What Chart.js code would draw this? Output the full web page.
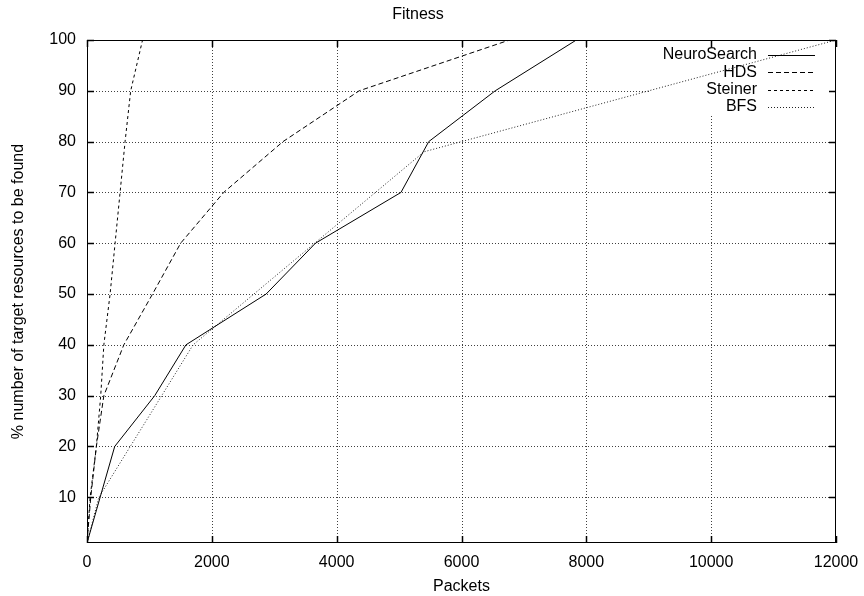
<!DOCTYPE html>
<html>
<head>
<meta charset="utf-8">
<title>Fitness</title>
<script src="https://cdn.jsdelivr.net/npm/chart.js@4/dist/chart.umd.min.js"></script>
<style>
	html, body { margin: 0; padding: 0; background: #fff; }
	#wrap { width: 864px; height: 596px; }
</style>
</head>
<body>
<div id="wrap"><canvas id="fitnessChart" width="864" height="596"></canvas></div>
<script>
const seriesNames = ['NeuroSearch', 'HDS', 'Steiner', 'BFS']

// packets needed (x) to find a given % of target resources (y)
const neuroPackets = [0, 444, 1085, 1585, 2870, 3660, 5030, 5475, 6540, 7840]
const neuroFound = [1, 20, 30, 40, 50, 60, 70, 80, 90, 100]

const hdsPackets = [0, 60, 150, 270, 590, 1050, 1500, 2190, 3140, 4360, 6770]
const hdsFound = [1, 10, 20, 30, 40, 50, 60, 70, 80, 90, 100]

const steinerPackets = [0, 50, 150, 220, 270, 370, 450, 530, 610, 700, 890]
const steinerFound = [1, 10, 20, 30, 40, 50, 60, 70, 80, 90, 100]

const bfsPackets = [0, 190, 1700, 5400, 12000]
const bfsFound = [1, 10, 40, 78, 100]

const xTicks = [0, 2000, 4000, 6000, 8000, 10000, 12000]
const yTicks = [10, 20, 30, 40, 50, 60, 70, 80, 90, 100]

const FONT = '"Liberation Sans", Arial, Helvetica, sans-serif'

const toPoints = (xs, ys) => xs.map((x, i) => ({ x: x, y: ys[i] }))

const lineStyles = [
	{ dash: [], color: '#000' },
	{ dash: [5, 3], color: '#000' },
	{ dash: [3, 3], color: '#000' },
	{ dash: [1, 2], color: '#222' },
]

// gnuplot-like frame: dotted grid, inward ticks on all four sides, key in the top right
const framePlugin = {
	id: 'frame',
	beforeDatasetsDraw(chart) {
		const { ctx, chartArea: a, scales } = chart
		ctx.save()
		ctx.strokeStyle = 'rgba(0,0,0,0.75)'
		ctx.lineWidth = 1
		ctx.setLineDash([1, 2])
		xTicks.forEach(v => {
			if (v === 0 || v === 12000) return
			const px = Math.round(scales.x.getPixelForValue(v)) + 0.5
			ctx.beginPath()
			ctx.moveTo(px, a.bottom)
			ctx.lineTo(px, a.top)
			ctx.stroke()
		})
		yTicks.forEach(v => {
			if (v === 100) return
			const py = Math.round(scales.y.getPixelForValue(v)) + 0.5
			ctx.beginPath()
			ctx.moveTo(a.left, py)
			ctx.lineTo(a.right, py)
			ctx.stroke()
		})
		// key area hides the grid behind it
		ctx.fillStyle = '#fff'
		ctx.fillRect(650, a.top + 1, a.right - 651, 75)
		ctx.restore()
	},
	afterDatasetsDraw(chart) {
		const { ctx, chartArea: a, scales } = chart
		ctx.save()
		ctx.setLineDash([])
		ctx.strokeStyle = '#000'
		ctx.lineWidth = 1
		ctx.strokeRect(a.left + 0.5, a.top + 0.5, a.right - a.left - 1, a.bottom - a.top - 1)
		const tl = 7
		ctx.lineWidth = 1.5
		xTicks.forEach(v => {
			const px = Math.round(scales.x.getPixelForValue(v)) + 0.5
			ctx.beginPath()
			ctx.moveTo(px, a.bottom)
			ctx.lineTo(px, a.bottom - tl)
			ctx.moveTo(px, a.top)
			ctx.lineTo(px, a.top + tl)
			ctx.stroke()
		})
		yTicks.forEach(v => {
			const py = Math.round(scales.y.getPixelForValue(v)) + 0.5
			ctx.beginPath()
			ctx.moveTo(a.left, py)
			ctx.lineTo(a.left + tl, py)
			ctx.moveTo(a.right, py)
			ctx.lineTo(a.right - tl, py)
			ctx.stroke()
		})

		// key
		ctx.font = '16px ' + FONT
		ctx.textAlign = 'right'
		ctx.textBaseline = 'middle'
		ctx.fillStyle = '#000'
		ctx.lineWidth = 1
		seriesNames.forEach((name, i) => {
			const y = 55 + i * 17.3
			ctx.fillText(name, 757, y)
			ctx.strokeStyle = lineStyles[i].color
			ctx.setLineDash(lineStyles[i].dash)
			ctx.beginPath()
			ctx.moveTo(768, Math.round(y) + 0.5)
			ctx.lineTo(815, Math.round(y) + 0.5)
			ctx.stroke()
		})
		ctx.restore()
	},
}

const allPoints = [
	toPoints(neuroPackets, neuroFound),
	toPoints(hdsPackets, hdsFound),
	toPoints(steinerPackets, steinerFound),
	toPoints(bfsPackets, bfsFound),
]

const ctx = document.getElementById('fitnessChart').getContext('2d')
const fitnessChart = new Chart(ctx, {
	type: 'line',
	data: {
		datasets: seriesNames.map((name, i) => ({
			label: name,
			data: allPoints[i],
			borderColor: lineStyles[i].color,
			borderDash: lineStyles[i].dash,
			borderWidth: 1,
			pointRadius: 0,
			tension: 0,
			fill: false,
		})),
	},
	options: {
		responsive: false,
		animation: false,
		layout: { padding: { left: 0, right: 28, top: 0, bottom: 0 } },
		plugins: {
			legend: { display: false },
			tooltip: { enabled: false },
			title: {
				display: true,
				text: 'Fitness',
				color: '#000',
				font: { family: FONT, size: 16, weight: 'normal' },
				padding: { top: 5, bottom: 15.8 },
			},
		},
		scales: {
			x: {
				type: 'linear',
				min: 0,
				max: 12000,
				afterBuildTicks: scale => {
					scale.ticks = xTicks.map(v => ({ value: v }))
				},
				afterFit: scale => {
					scale.height = 53
					scale.paddingLeft = 0
					scale.paddingRight = 0
				},
				grid: { display: false, drawTicks: false },
				border: { display: false },
				ticks: {
					color: '#000',
					padding: 10,
					maxRotation: 0,
					font: { family: FONT, size: 16 },
					callback: v => String(v),
				},
				title: {
					display: true,
					text: 'Packets',
					color: '#000',
					font: { family: FONT, size: 16 },
					padding: { top: 0, bottom: 0 },
				},
			},
			y: {
				type: 'linear',
				min: 1,
				max: 100,
				afterBuildTicks: scale => {
					scale.ticks = yTicks.map(v => ({ value: v }))
				},
				afterFit: scale => {
					scale.width = 87
				},
				grid: { display: false, drawTicks: false },
				border: { display: false },
				ticks: {
					color: '#000',
					padding: 11,
					font: { family: FONT, size: 16 },
					callback: v => String(v),
				},
				title: {
					display: true,
					text: '% number of target resources to be found',
					color: '#000',
					font: { family: FONT, size: 16 },
					padding: { top: 9, bottom: 0 },
				},
			},
		},
	},
	plugins: [framePlugin],
})
</script>
</body>
</html>
